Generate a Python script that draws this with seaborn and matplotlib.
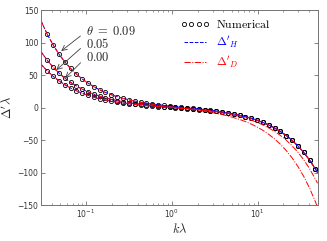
import matplotlib
matplotlib.use("Agg")
from matplotlib import pyplot as plt
from matplotlib.lines import Line2D
import seaborn as sns

# wavenumbers of the numerical points (k lambda)
k_num = [0.0355, 0.0415, 0.0485, 0.0568, 0.0664, 0.0777, 0.0906, 0.106, 0.124, 0.145,
         0.169, 0.198, 0.232, 0.271, 0.317, 0.371, 0.433, 0.506, 0.592, 0.692,
         0.809, 0.946, 1.106, 1.294, 1.514, 1.770, 2.065, 2.415, 2.825, 3.304,
         3.864, 4.519, 5.284, 6.180, 7.228, 8.453, 9.863, 11.53, 13.49, 15.78,
         18.45, 21.58, 25.23, 29.51, 34.51, 40.36, 47.21]

# numerical Delta' lambda for theta = 0.09, 0.05, 0.00
num_09 = [112.6, 96.3, 82.4, 70.3, 60.1, 51.3, 44.0, 37.5, 32.0, 27.3,
          23.3, 19.8, 16.8, 14.2, 12.0, 10.0, 8.4, 6.9, 5.6, 4.4,
          3.3, 2.3, 1.4, 0.5, -0.4, -1.3, -2.2, -3.2, -4.2, -5.4,
          -6.7, -8.2, -9.8, -11.7, -13.9, -16.4, -19.3, -22.7, -26.7, -31.3,
          -36.7, -43.0, -50.3, -58.9, -68.9, -80.6, -94.3]
num_05 = [72.6, 62.1, 53.1, 45.3, 38.7, 33.1, 28.3, 24.1, 20.6, 17.5,
          14.9, 12.6, 10.7, 9.0, 7.5, 6.2, 5.1, 4.1, 3.2, 2.4,
          1.6, 0.8, 0.1, -0.6, -1.3, -2.1, -2.9, -3.8, -4.7, -5.8,
          -7.1, -8.5, -10.1, -11.9, -14.1, -16.6, -19.5, -22.8, -26.8, -31.4,
          -36.8, -43.0, -50.4, -58.9, -68.9, -80.6, -94.4]
num_00 = [56.3, 48.1, 41.1, 35.1, 30.0, 25.6, 21.9, 18.7, 15.9, 13.5,
          11.5, 9.7, 8.2, 6.8, 5.7, 4.7, 3.8, 2.9, 2.2, 1.5,
          0.9, 0.2, -0.4, -1.0, -1.7, -2.4, -3.2, -4.0, -4.9, -6.0,
          -7.2, -8.6, -10.2, -12.0, -14.2, -16.7, -19.5, -22.9, -26.8, -31.4,
          -36.8, -43.1, -50.4, -59.0, -69.0, -80.7, -94.4]

# analytic curves, on the same grid plus the two ends of the axis
k_line = [0.03] + k_num + [50.0]
H_09 = [133.3] + num_09 + [-99.9]
H_05 = [85.9] + num_05 + [-99.9]
H_00 = [66.6] + num_00 + [-100.0]
D_09 = [133.3, 112.6, 96.3, 82.3, 70.2, 60.0, 51.2, 43.9, 37.4, 31.9, 27.1,
        23.1, 19.6, 16.6, 13.9, 11.7, 9.6, 7.9, 6.4, 5.0, 3.7,
        2.4, 1.3, 0.2, -0.9, -2.0, -3.2, -4.4, -5.8, -7.2, -8.9,
        -10.8, -13.0, -15.5, -18.3, -21.6, -25.4, -29.9, -35.0, -41.1, -48.2,
        -56.4, -66.1, -77.3, -90.5, -105.8, -123.8, -144.8, -153.5]
D_05 = [85.9, 72.6, 62.1, 53.1, 45.3, 38.7, 33.1, 28.3, 24.1, 20.6, 17.5,
        14.9, 12.6, 10.7, 9.0, 7.4, 6.1, 5.0, 3.9, 3.0, 2.2,
        1.3, 0.5, -0.3, -1.0, -1.8, -2.7, -3.6, -4.6, -5.6, -6.9,
        -8.4, -10.0, -11.8, -13.9, -16.5, -19.4, -22.8, -26.6, -31.3, -36.6,
        -42.9, -50.1, -58.7, -68.6, -80.3, -93.9, -110.0, -116.5]
D_00 = H_00

labels = [r"$\theta\;=\;0.09$", r"$0.05$", r"$0.00$"]
label_pos = [(0.1, 116.6), (0.1, 98.2), (0.1, 76.9)]
arrow_tip = [(0.0516, 86.9), (0.0452, 57.7), (0.0574, 45.4)]

sns.set_style("ticks")
plt.rcParams["mathtext.fontset"] = "cm"
plt.rcParams["font.family"] = ["DejaVu Sans"]

fig, ax = plt.subplots(figsize=(3.27, 2.41), dpi=100)
fig.subplots_adjust(left=0.1254, right=0.971, bottom=0.149, top=0.9585)

for num in [num_09, num_05, num_00]:
    sns.lineplot(x=k_num, y=num, ax=ax, marker="o", linestyle="none", ms=3.0,
                 mfc="none", mec="k", mew=0.6, estimator=None)
for H in [H_09, H_05, H_00]:
    sns.lineplot(x=k_line, y=H, ax=ax, color="b", linestyle="--", lw=0.7,
                 estimator=None)
for D in [D_09, D_05, D_00]:
    sns.lineplot(x=k_line, y=D, ax=ax, color="r", linestyle="-.", lw=0.7,
                 estimator=None)

ax.set_xscale("log")
ax.set_xlim(0.03, 50)
ax.set_ylim(-150, 150)
ax.set_yticks([-150, -100, -50, 0, 50, 100, 150])

for lab, pos, tip in zip(labels, label_pos, arrow_tip):
    ax.annotate(lab, xy=tip, xytext=pos, fontsize=9, ha="left", va="center",
                arrowprops=dict(arrowstyle="->", lw=0.6, color="0.25",
                                relpos=(0, 0.5), shrinkA=2, shrinkB=0))

handles = [Line2D([], [], marker="o", ls="none", ms=3.0, mfc="none", mec="k", mew=0.6),
           Line2D([], [], color="b", ls="--", lw=0.7),
           Line2D([], [], color="r", ls="-.", lw=0.7)]
ax.legend(handles, [r"$\mathrm{Numerical}$", r"$\Delta'_H$", r"$\Delta'_D$"],
          loc="upper left", bbox_to_anchor=(0.503, 0.96), frameon=False,
          numpoints=4, fontsize=8.5, handlelength=2.5, handletextpad=0.5,
          labelspacing=0.3, borderpad=0, borderaxespad=0,
          labelcolor=["k", "b", "r"])

ax.set_xlabel(r"$k\lambda$", fontsize=9, labelpad=1)
ax.set_ylabel(r"$\Delta'\lambda$", fontsize=9, labelpad=2)

for s in ax.spines.values():
    s.set_color("0.45")
    s.set_linewidth(0.7)
ax.tick_params(which="both", direction="in", top=True, right=True,
               color="0.45", labelsize=5.5, labelcolor="0.2", pad=2)
ax.tick_params(which="major", length=3, width=0.6)
ax.tick_params(which="minor", length=1.6, width=0.5)

fig.savefig("out.png", dpi=100)
